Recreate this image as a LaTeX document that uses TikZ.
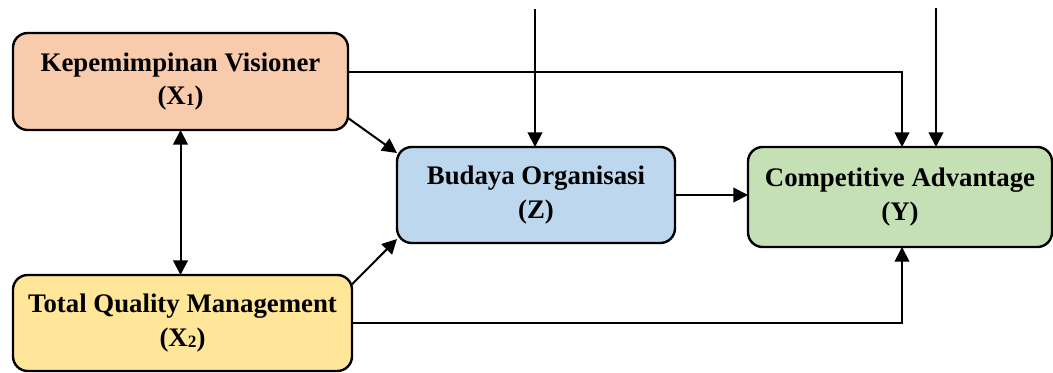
\documentclass[tikz,border=0pt]{standalone}
\usepackage{fontspec}
\setmainfont{Liberation Serif}
\usetikzlibrary{arrows.meta}
\definecolor{cX1}{HTML}{F8CBAD}
\definecolor{cX2}{HTML}{FFE699}
\definecolor{cZ}{HTML}{BDD7EE}
\definecolor{cY}{HTML}{C5E0B4}
\newcommand{\subn}[1]{\raisebox{-1pt}{\fontsize{13}{13}\selectfont #1}}
\tikzset{
  varbox/.style={draw=black, line width=1.8pt, rounded corners=11pt, align=center,
    inner sep=0pt, outer sep=0pt, font=\bfseries\fontsize{20.1}{25}\selectfont},
  conn/.style={line width=1.5pt, -{Triangle[length=11pt,width=11pt]}},
  dconn/.style={line width=1.5pt, {Triangle[length=11pt,width=11pt]}-{Triangle[length=11pt,width=11pt]}},
}
\begin{document}
\begin{tikzpicture}[x=0.75pt,y=-0.75pt]
\useasboundingbox (0,0) rectangle (1053,372);
\node[varbox, fill=cX1, minimum width=251.25pt, minimum height=72.75pt] (X1) at (180.5,81.5) {Kepemimpinan Visioner\\(X\subn{1})};
\node[varbox, fill=cX2, minimum width=254.25pt, minimum height=72pt] (X2) at (182.5,323) {Total Quality Management\\(X\subn{2})};
\node[varbox, fill=cZ, minimum width=208.5pt, minimum height=72pt] (Z) at (536,195) {Budaya Organisasi\\(Z)};
\node[varbox, fill=cY, minimum width=228pt, minimum height=75pt] (Y) at (900,197) {Competitive Advantage\\(Y)};
\coordinate (t1) at (535,9);
\coordinate (t2) at (936,8);
\coordinate (a1) at (902,72);
\coordinate (a2) at (902,323);
\draw[conn] (t1) -- (t1 |- Z.north);
\draw[conn] (t2) -- (t2 |- Y.north);
\draw[conn] (X1.east |- a1) -- (a1) -- (a1 |- Y.north);
\draw[conn] (X2.east |- a2) -- (a2) -- (a2 |- Y.south);
\draw[conn] (Z.east) -- (Z.east -| Y.west);
\draw[conn] ([yshift=9pt]X1.south east) -- ([yshift=-4.5pt]Z.north west);
\draw[conn] ([yshift=-7pt]X2.north east) -- ([yshift=3pt]Z.south west);
\draw[dconn] (X1.south) -- (X1.south |- X2.north);
\end{tikzpicture}
\end{document}
